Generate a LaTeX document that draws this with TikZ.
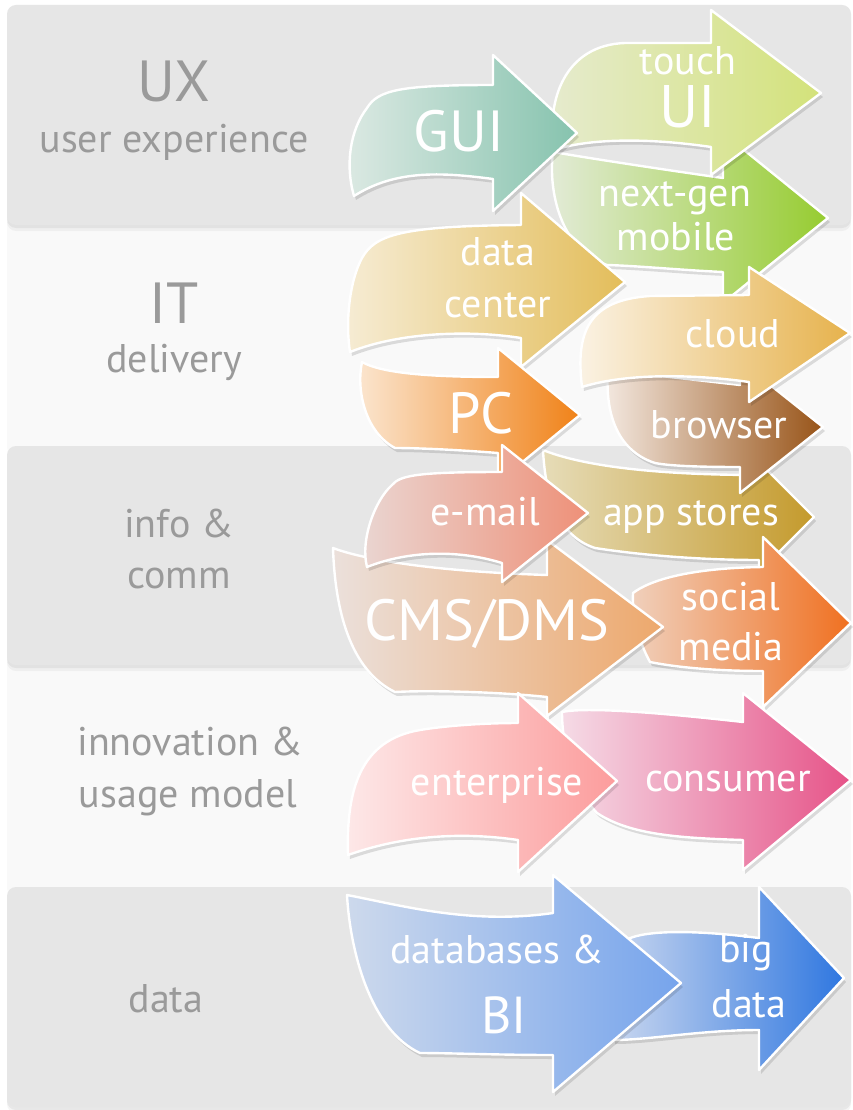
\documentclass[tikz,border=0pt]{standalone}
\usepackage{fontspec}
\setmainfont{PT Sans}
\definecolor{bandgray}{HTML}{E6E6E6}
\definecolor{bandlight}{HTML}{F9F9F9}
\definecolor{sidegray}{HTML}{9A9A9A}
\definecolor{guiL}{HTML}{DCE9E3}\definecolor{guiR}{HTML}{86C3AE}
\definecolor{touchL}{HTML}{E6EBCF}\definecolor{touchR}{HTML}{D3E27A}
\definecolor{mobL}{HTML}{E3EBD8}\definecolor{mobR}{HTML}{96CC30}
\definecolor{dcL}{HTML}{F6ECD4}\definecolor{dcR}{HTML}{E3BD5A}
\definecolor{cloudL}{HTML}{FBF3E6}\definecolor{cloudR}{HTML}{E6B24C}
\definecolor{pcL}{HTML}{FBE6D0}\definecolor{pcR}{HTML}{F08218}
\definecolor{browL}{HTML}{F3E8E0}\definecolor{browR}{HTML}{985418}
\definecolor{appL}{HTML}{E6DCB8}\definecolor{appR}{HTML}{C49A2C}
\definecolor{mailL}{HTML}{EAD6D2}\definecolor{mailR}{HTML}{EE9078}
\definecolor{cmsL}{HTML}{EBE0DB}\definecolor{cmsR}{HTML}{EDA86C}
\definecolor{socL}{HTML}{F0D0BC}\definecolor{socR}{HTML}{F07020}
\definecolor{entL}{HTML}{FDE8E8}\definecolor{entR}{HTML}{FC9C9C}
\definecolor{conL}{HTML}{F5DBE6}\definecolor{conR}{HTML}{E65388}
\definecolor{dbL}{HTML}{CDD9EC}\definecolor{dbR}{HTML}{76A4EC}
\definecolor{bigL}{HTML}{C8D6EF}\definecolor{bigR}{HTML}{2F77E0}
\tikzset{
  band/.style={fill=bandgray, rounded corners=9pt,
    preaction={fill=black, opacity=.05, transform canvas={yshift=-3pt}},
    preaction={fill=black, opacity=.04, transform canvas={yshift=-6pt}}},
  lightband/.style={fill=bandlight, rounded corners=9pt},
  swoosh/.style={draw=white, line width=2.4pt, line join=round,
    preaction={fill=black, opacity=.12, transform canvas={xshift=2pt,yshift=-4pt}}},
  lbl/.style={text=white, anchor=base, font=\fontsize{40}{48}\selectfont},
  biglbl/.style={text=white, anchor=base, font=\fontsize{58}{60}\selectfont},
  side/.style={text=sidegray, anchor=base, font=\fontsize{40}{48}\selectfont},
  bigside/.style={text=sidegray, anchor=base, font=\fontsize{58}{60}\selectfont},
}
\begin{document}
\begin{tikzpicture}[x=1pt, y=-1pt]
  \useasboundingbox (0,0) rectangle (852,1110);
  \fill[white] (0,0) rectangle (852,1110);
  % bands
  \fill[lightband] (7,215) rectangle (851,456);
  \fill[lightband] (7,655) rectangle (851,897);
  \fill[band] (7,5) rectangle (851,225);
  \fill[band] (7,446) rectangle (851,665);
  \fill[band] (7,887) rectangle (851,1107);
  % side labels
  \node[bigside] (ux) at (174,102) {UX};
  \node[side] (uxsub) at (174,153) {user experience};
  \node[bigside] (it) at (174,323) {IT};
  \node[side] (itsub) at (174,372) {delivery};
  \node[side] (info) at (179,537) {info \&};
  \node[side] (comm) at (179,588) {comm};
  \node[side] (innov) at (190,755) {innovation \&};
  \node[side] (usage) at (188,807) {usage model};
  \node[side] (data) at (166,1012) {data};
  % arrows, back to front
  \path[swoosh, left color=mobL, right color=mobR]
    (553,152) .. controls (600,160) and (680,172) .. (723,178) -- (723,133) -- (828,218)
    -- (723,303) -- (723,272) .. controls (680,270) and (640,266) .. (607,265)
    .. controls (560,250) and (548,190) .. cycle;
  \path[swoosh, left color=touchL, right color=touchR]
    (554,150) .. controls (546,100) and (565,45) .. (625,43) -- (711,43) -- (711,10)
    -- (821,93) -- (711,175) -- (711,147) .. controls (650,138) and (590,138) .. cycle;
  \path[swoosh, left color=guiL, right color=guiR]
    (367,108) .. controls (378,90) and (400,85) .. (493,85) -- (493,55) -- (577,133)
    -- (493,211) -- (493,179) .. controls (440,172) and (395,170) .. (354,196)
    .. controls (345,165) and (350,130) .. cycle;
  \path[swoosh, left color=dcL, right color=dcR]
    (362,258) .. controls (375,235) and (400,226) .. (521,225) -- (521,193) -- (625,282)
    -- (521,367) -- (521,338) .. controls (470,330) and (400,332) .. (350,352)
    .. controls (345,320) and (350,280) .. cycle;
  \path[swoosh, left color=appL, right color=appR]
    (543,450) .. controls (580,465) and (650,475) .. (759,475) -- (759,462) -- (814,517)
    -- (759,572) -- (759,560) .. controls (700,560) and (640,555) .. (595,548)
    .. controls (555,535) and (545,490) .. cycle;
  \path[swoosh, left color=browL, right color=browR]
    (608,370) -- (740,385) -- (740,361) -- (823,427) -- (740,493) -- (740,467)
    .. controls (700,467) and (670,466) .. (655,463)
    .. controls (615,450) and (605,410) .. cycle;
  \path[swoosh, left color=cloudL, right color=cloudR]
    (582,387) .. controls (575,330) and (590,300) .. (650,296) -- (749,295) -- (749,267)
    -- (850,333) -- (749,402) -- (749,382) .. controls (700,375) and (630,372) .. cycle;
  \path[swoosh, left color=pcL, right color=pcR]
    (362,362) .. controls (380,372) and (420,377) .. (498,377) -- (498,348) -- (580,415)
    -- (498,482) -- (498,453) .. controls (460,450) and (420,448) .. (395,448)
    .. controls (365,432) and (356,390) .. cycle;
  \path[swoosh, left color=socL, right color=socR]
    (633,593) .. controls (650,580) and (690,568) .. (763,567) -- (763,537) -- (851,623)
    -- (763,707) -- (763,671) .. controls (720,671) and (680,668) .. (650,662)
    .. controls (638,640) and (632,615) .. cycle;
  \path[swoosh, left color=cmsL, right color=cmsR]
    (333,548) .. controls (370,562) and (450,572) .. (547,575) -- (547,540) -- (663,627)
    -- (547,716) -- (547,697) .. controls (500,692) and (430,690) .. (395,692)
    .. controls (350,670) and (335,610) .. cycle;
  \path[swoosh, left color=mailL, right color=mailR]
    (392,485) .. controls (400,475) and (420,472) .. (502,472) -- (502,445) -- (588,513)
    -- (502,582) -- (502,563) .. controls (460,550) and (410,550) .. (367,567)
    .. controls (360,540) and (375,500) .. cycle;
  \path[swoosh, left color=conL, right color=conR]
    (562,712) .. controls (590,706) and (680,715) .. (743,722) -- (743,693) -- (851,780)
    -- (743,870) -- (743,840) .. controls (680,838) and (630,835) .. (597,813)
    .. controls (575,790) and (562,750) .. cycle;
  \path[swoosh, left color=entL, right color=entR]
    (348,855) .. controls (346,790) and (360,740) .. (420,730)
    .. controls (450,725) and (490,723) .. (518,723) -- (518,693) -- (617,781)
    -- (518,872) -- (518,840) .. controls (470,833) and (410,833) .. cycle;
  \path[swoosh, left color=bigL, right color=bigR]
    (626,940) .. controls (640,932) and (680,928) .. (759,938) -- (759,887) -- (844,978)
    -- (759,1070) -- (759,1030) .. controls (700,1030) and (650,1040) .. (613,1040)
    .. controls (615,1000) and (615,960) .. cycle;
  \path[swoosh, left color=dbL, right color=dbR]
    (347,895) .. controls (400,905) and (470,925) .. (553,913) -- (553,875) -- (681,983)
    -- (553,1092) -- (553,1055) .. controls (500,1055) and (450,1053) .. (420,1053)
    .. controls (370,1030) and (350,950) .. cycle;
  % arrow labels
  \node[biglbl] (gui) at (459,152) {GUI};
  \node[lbl] (touch) at (688,75) {touch};
  \node[text=white, anchor=base, font=\fontsize{60}{60}\selectfont] (ui) at (688,128) {UI};
  \node[lbl] (nextgen) at (675,207) {next-gen};
  \node[lbl] (mobile) at (676,250) {mobile};
  \node[lbl] (dcdata) at (498,265) {data};
  \node[lbl] (dccenter) at (498,317) {center};
  \node[lbl] (cloud) at (733,347) {cloud};
  \node[biglbl] (pc) at (481,433) {PC};
  \node[lbl] (browser) at (719,438) {browser};
  \node[lbl] (appstores) at (691,525) {app stores};
  \node[lbl] (email) at (485,525) {e-mail};
  \node[biglbl] (cms) at (487,640) {CMS/DMS};
  \node[lbl] (social) at (731,610) {social};
  \node[lbl] (media) at (731,660) {media};
  \node[lbl] (enterprise) at (497,795) {enterprise};
  \node[lbl] (consumer) at (728,791) {consumer};
  \node[lbl] (databases) at (497,963) {databases \&};
  \node[text=white, anchor=base, font=\fontsize{52}{52}\selectfont] (bi) at (504,1033) {BI};
  \node[lbl] (big) at (746,962) {big};
  \node[lbl] (bigdata) at (749,1017) {data};
\end{tikzpicture}
\end{document}
